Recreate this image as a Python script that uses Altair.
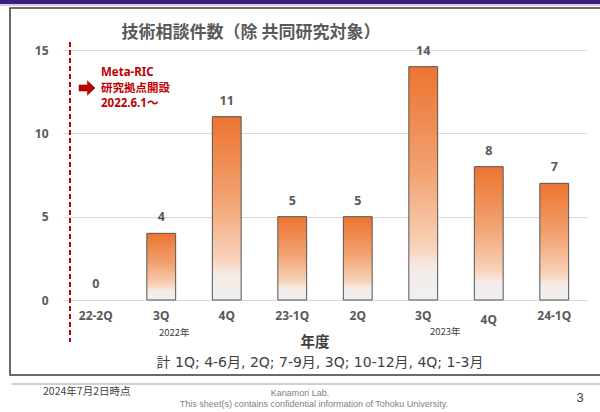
import altair as alt
import pandas as pd

# Quarterly technical consultation counts (joint-research cases excluded)
quarter_keys = ["22-2Q", "2022-3Q", "2022-4Q", "23-1Q", "2023-2Q", "2023-3Q", "2023-4Q", "24-1Q"]
quarter_labels = ["22-2Q", "3Q", "4Q", "23-1Q", "2Q", "3Q", "4Q", "24-1Q"]
counts = [0, 4, 11, 5, 5, 14, 8, 7]

y_ticks = [0, 5, 10, 15]

title_text = "技術相談件数（除 共同研究対象）"
axis_title = "年度"
note_text = "計 1Q; 4-6月, 2Q; 7-9月, 3Q; 10-12月, 4Q; 1-3月"
event_lines = ["Meta-RIC", "研究拠点開設", "2022.6.1～"]
year_2022 = "2022年"
year_2023 = "2023年"
footer_date = "2024年7月2日時点"
footer_lab = "Kanamori Lab."
footer_notice = "This sheet(s) contains confidential information of Tohoku University."
page_no = "3"

df = pd.DataFrame({"key": quarter_keys, "label": quarter_labels, "count": counts})
one = pd.DataFrame({"k": [0]})

LATIN = "Noto Sans, Noto Sans CJK JP"
WIDE = "DejaVu Sans, Noto Sans CJK JP"
CJK = "Noto Sans CJK JP"
GREY = "#595959"
RED = "#c00000"

x_enc = alt.X("key:N", sort=quarter_keys, axis=None,
              scale=alt.Scale(paddingInner=0.56, paddingOuter=0.28))
y_scale = alt.Scale(domain=[0, 15], nice=False)

base = alt.Chart(df)

bar_fill = alt.LinearGradient(
    gradient="linear", x1=0, y1=0, x2=0, y2=1,
    stops=[
        alt.GradientStop(offset=0.0, color="#ec7430"),
        alt.GradientStop(offset=0.45, color="#f2a271"),
        alt.GradientStop(offset=0.78, color="#f8d3bb"),
        alt.GradientStop(offset=0.86, color="#f5ebe5"),
        alt.GradientStop(offset=1.0, color="#f0f0f0"),
    ],
)

bars = base.transform_filter("datum.count > 0").mark_bar(
    color=bar_fill, stroke="#555555", strokeWidth=1
).encode(
    x=x_enc,
    y=alt.Y("count:Q", scale=y_scale,
            axis=alt.Axis(values=y_ticks, title=None, domain=False, ticks=False,
                          grid=True, gridColor="#d9d9d9", gridWidth=1,
                          labelPadding=15, labelFont=LATIN, labelFontSize=12,
                          labelFontWeight="bold", labelColor=GREY)),
)

value_labels = base.mark_text(
    font=LATIN, fontSize=12.5, fontWeight="bold", color=GREY, dy=-16, baseline="middle"
).encode(x=x_enc, y=alt.Y("count:Q", scale=y_scale), text="count:Q")

cat_labels = base.transform_filter("datum.key != '2023-4Q'").mark_text(
    font=LATIN, fontSize=12, fontWeight="bold", color=GREY, baseline="middle"
).encode(x=x_enc, y=alt.value(266), text="label:N")

cat_label_low = base.transform_filter("datum.key == '2023-4Q'").mark_text(
    font=LATIN, fontSize=12, fontWeight="bold", color=GREY, baseline="middle"
).encode(x=x_enc, y=alt.value(270), text="label:N")

yr22 = base.transform_filter("datum.key == '2022-3Q'").mark_text(
    font=CJK, fontSize=9.5, color="#404040", baseline="middle", dx=13
).encode(x=x_enc, y=alt.value(283), text=alt.value(year_2022))

yr23 = base.transform_filter("datum.key == '2023-3Q'").mark_text(
    font=CJK, fontSize=9.5, color="#404040", baseline="middle", dx=22
).encode(x=x_enc, y=alt.value(282), text=alt.value(year_2023))

ann = alt.Chart(one)

# slide decoration: header band, frame, footer rule
header = ann.mark_rect(color="#3b1d80").encode(
    x=alt.value(-63), x2=alt.value(537), y=alt.value(-50), y2=alt.value(-46))
header_line = ann.mark_rect(color="#d6c9ee").encode(
    x=alt.value(-63), x2=alt.value(537), y=alt.value(-46), y2=alt.value(-44))
frame = ann.mark_rect(fill="transparent", stroke="#3a3a3a", strokeWidth=1.5).encode(
    x=alt.value(-53), x2=alt.value(545), y=alt.value(-42), y2=alt.value(325))
footer_rule = ann.mark_rule(color="#bfbfbf", strokeWidth=1.5).encode(
    x=alt.value(-51), x2=alt.value(537), y=alt.value(334))

# launch date marker
marker = ann.mark_rule(color=RED, strokeDash=[5, 3], strokeWidth=2).encode(
    x=alt.value(7), y=alt.value(-8), y2=alt.value(292))
arrow = ann.mark_point(
    shape="M-1,-0.38 L0.05,-0.38 L0.05,-0.9 L1,0 L0.05,0.9 L0.05,0.38 L-1,0.38 Z",
    filled=True, fill=RED, stroke="#8b0000", strokeWidth=0.5, size=256, opacity=1,
).encode(x=alt.value(24), y=alt.value(38))

event_text = [
    ann.mark_text(font=LATIN, fontSize=11.5, fontWeight="bold", color=RED,
                  align="left", baseline="middle").encode(
        x=alt.value(38), y=alt.value(yy), text=alt.value(t))
    for t, yy in zip(event_lines, [23, 39, 54])
]

def label(text, x, y, size, color="#404040", weight="normal", font=CJK, align="center"):
    return ann.mark_text(font=font, fontSize=size, fontWeight=weight, color=color,
                         align=align, baseline="middle").encode(
        x=alt.value(x), y=alt.value(y), text=alt.value(text))

texts = [
    label(title_text, 188, -17, 17, color=GREY, weight="bold"),
    label(axis_title, 252, 293, 14.5, color="#404040", weight="bold"),
    label(note_text, 257, 313, 14, color="#404040", font=WIDE),
    label(footer_date, -20, 342, 10.5, color="#404040", align="left"),
    label(footer_lab, 237, 343, 9, color="#7f7f7f", font="Liberation Sans"),
    label(footer_notice, 251, 354, 9, color="#7f7f7f", font="Liberation Sans"),
    label(page_no, 517, 348, 13, color="#404040", font="Liberation Sans"),
]

chart = alt.layer(
    header, header_line, frame, footer_rule,
    bars, value_labels, cat_labels, cat_label_low, yr22, yr23,
    marker, arrow, *event_text, *texts,
).properties(
    width=524, height=250,
    padding={"left": 63, "top": 50, "right": 13, "bottom": 112},
    autosize=alt.AutoSizeParams(type="none"),
    background="white",
).configure_view(stroke=None)

chart.save("out.html", embed_options={"renderer": "svg", "actions": False})
